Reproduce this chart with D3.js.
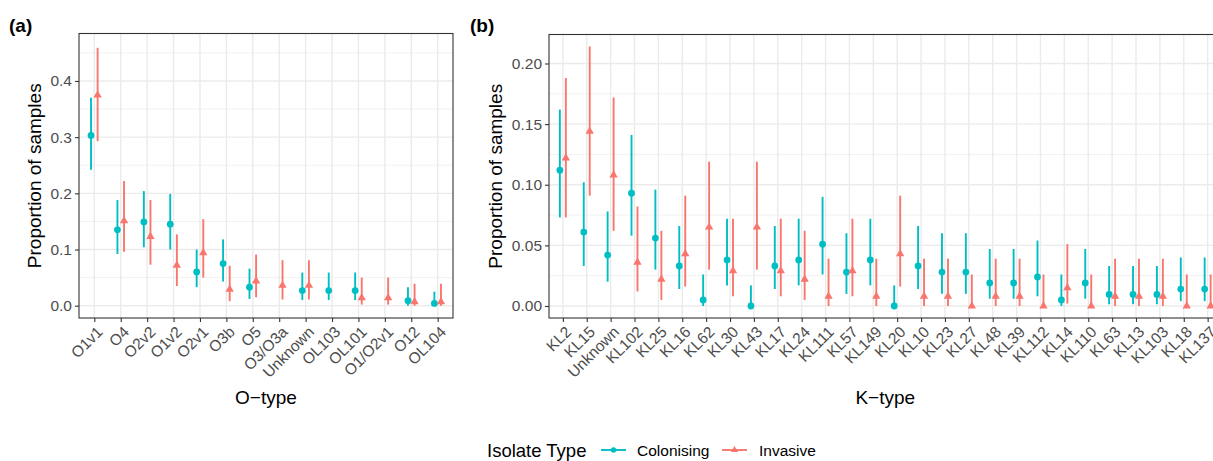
<!DOCTYPE html>
<html>
<head>
<meta charset="utf-8">
<script src="https://cdn.jsdelivr.net/npm/d3@7"></script>
<style>
  body { margin: 0; background: #fff; }
  svg { display: block; font-family: "Liberation Sans", Arial, sans-serif; }
</style>
</head>
<body>
<svg id="chart" width="1213" height="461"></svg>
<script>
// O-type panel data
const oTypes = ["O1v1", "O4", "O2v2", "O1v2", "O2v1", "O3b", "O5", "O3/O3a", "Unknown", "OL103", "OL101", "O1/O2v1", "O12", "OL104"];
const oColEst = [0.303, 0.135, 0.149, 0.145, 0.060, 0.075, 0.033, null, 0.027, 0.027, 0.027, null, 0.009, 0.004];
const oColLo  = [0.242, 0.092, 0.104, 0.100, 0.033, 0.043, 0.012, null, 0.010, 0.010, 0.010, null, 0.000, 0.000];
const oColHi  = [0.370, 0.188, 0.204, 0.199, 0.100, 0.118, 0.066, null, 0.059, 0.059, 0.059, null, 0.033, 0.025];
const oInvEst = [0.375, 0.151, 0.123, 0.072, 0.094, 0.029, 0.044, 0.036, 0.036, null, 0.014, 0.014, 0.007, 0.007];
const oInvLo  = [0.293, 0.096, 0.073, 0.035, 0.050, 0.008, 0.015, 0.011, 0.011, null, 0.002, 0.002, 0.000, 0.000];
const oInvHi  = [0.459, 0.222, 0.188, 0.127, 0.154, 0.071, 0.091, 0.081, 0.081, null, 0.050, 0.050, 0.039, 0.039];

// K-type panel data
const kTypes = ["KL2", "KL15", "Unknown", "KL102", "KL25", "KL16", "KL62", "KL30", "KL43", "KL17", "KL24", "KL111", "KL57", "KL149",
  "KL20", "KL10", "KL23", "KL27", "KL48", "KL39", "KL112", "KL14", "KL110", "KL63", "KL13", "KL103", "KL18", "KL137"];
const kColEst = [0.112, 0.061, 0.042, 0.093, 0.056, 0.033, 0.005, 0.038, 0.000, 0.033, 0.038, 0.051, 0.028, 0.038,
  0.000, 0.033, 0.028, 0.028, 0.019, 0.019, 0.024, 0.005, 0.019, 0.0095, 0.0095, 0.0095, 0.014, 0.014];
const kColLo  = [0.073, 0.033, 0.020, 0.058, 0.030, 0.014, 0.000, 0.017, 0.000, 0.014, 0.017, 0.026, 0.010, 0.017,
  0.000, 0.014, 0.010, 0.010, 0.006, 0.006, 0.008, 0.000, 0.006, 0.0014, 0.0014, 0.0014, 0.004, 0.004];
const kColHi  = [0.162, 0.102, 0.078, 0.141, 0.096, 0.066, 0.026, 0.072, 0.017, 0.066, 0.072, 0.090, 0.060, 0.072,
  0.017, 0.066, 0.060, 0.060, 0.047, 0.047, 0.054, 0.026, 0.047, 0.033, 0.033, 0.033, 0.040, 0.040];
const kInvEst = [0.122, 0.144, 0.108, 0.036, 0.022, 0.043, 0.065, 0.029, 0.065, 0.029, 0.022, 0.008, 0.029, 0.008,
  0.043, 0.008, 0.008, 0.000, 0.008, 0.008, 0.000, 0.015, 0.000, 0.008, 0.008, 0.008, 0.000, 0.000];
const kInvLo  = [0.073, 0.091, 0.062, 0.012, 0.005, 0.016, 0.030, 0.008, 0.030, 0.008, 0.005, 0.000, 0.008, 0.000,
  0.016, 0.000, 0.000, 0.000, 0.000, 0.000, 0.000, 0.002, 0.000, 0.000, 0.000, 0.000, 0.000, 0.000];
const kInvHi  = [0.188, 0.214, 0.172, 0.082, 0.062, 0.091, 0.119, 0.072, 0.119, 0.072, 0.062, 0.039, 0.072, 0.039,
  0.091, 0.039, 0.039, 0.026, 0.039, 0.039, 0.026, 0.051, 0.026, 0.039, 0.039, 0.039, 0.026, 0.026];

const oTicks = [0.0, 0.1, 0.2, 0.3, 0.4];
const kTicks = [0.00, 0.05, 0.10, 0.15, 0.20];

const groups = ["Colonising", "Invasive"];
const colors = { Colonising: "#00BFC4", Invasive: "#F8766D" };

const svg = d3.select("#chart");

function rows(types, colEst, colLo, colHi, invEst, invLo, invHi) {
  const out = [];
  types.forEach(function(t, i) {
    if (colEst[i] !== null) out.push({ type: t, group: "Colonising", est: colEst[i], lo: colLo[i], hi: colHi[i] });
    if (invEst[i] !== null) out.push({ type: t, group: "Invasive", est: invEst[i], lo: invLo[i], hi: invHi[i] });
  });
  return out;
}

function drawPanel(opt) {
  const g = svg.append("g");
  const x = d3.scalePoint().domain(opt.types).range([opt.x0, opt.x1]).padding(0.58);
  const step = x.step();
  const y = d3.scaleLinear().domain(opt.yDomain).range([opt.y1, opt.y0]);
  const dodge = d3.scalePoint().domain(groups).range([-step * 0.125, step * 0.125]);

  // minor grid
  const minor = d3.range(opt.ticks.length - 1).map(i => (opt.ticks[i] + opt.ticks[i + 1]) / 2);
  if (opt.ticks[0] - (opt.ticks[1] - opt.ticks[0]) / 2 >= opt.yDomain[0]) minor.unshift(opt.ticks[0] - (opt.ticks[1] - opt.ticks[0]) / 2);
  minor.push(opt.ticks[opt.ticks.length - 1] + (opt.ticks[1] - opt.ticks[0]) / 2);
  g.selectAll(".minor").data(minor.filter(v => v > opt.yDomain[0] && v < opt.yDomain[1])).enter().append("line")
    .attr("x1", opt.x0).attr("x2", opt.x1)
    .attr("y1", d => y(d)).attr("y2", d => y(d))
    .attr("stroke", "#ebebeb").attr("stroke-width", 0.7);
  g.selectAll(".hmajor").data(opt.ticks).enter().append("line")
    .attr("x1", opt.x0).attr("x2", opt.x1)
    .attr("y1", d => y(d)).attr("y2", d => y(d))
    .attr("stroke", "#ebebeb").attr("stroke-width", 1.4);
  g.selectAll(".vmajor").data(opt.types).enter().append("line")
    .attr("x1", d => x(d)).attr("x2", d => x(d))
    .attr("y1", opt.y0).attr("y2", opt.y1)
    .attr("stroke", "#ebebeb").attr("stroke-width", 1.4);

  const data = rows(opt.types, opt.colEst, opt.colLo, opt.colHi, opt.invEst, opt.invLo, opt.invHi);
  const marks = g.selectAll(".pr").data(data).enter().append("g")
    .attr("transform", d => "translate(" + (x(d.type) + dodge(d.group)) + ",0)");
  marks.append("line")
    .attr("y1", d => y(d.lo)).attr("y2", d => y(d.hi))
    .attr("stroke", d => colors[d.group]).attr("stroke-width", 1.9);
  marks.append("path")
    .attr("transform", d => "translate(0," + y(d.est) + ")")
    .attr("d", d => d.group === "Colonising"
      ? d3.symbol(d3.symbolCircle, 36)()
      : d3.symbol(d3.symbolTriangle, 30)())
    .attr("fill", d => colors[d.group]);

  // border
  g.append("rect")
    .attr("x", opt.x0).attr("y", opt.y0)
    .attr("width", opt.x1 - opt.x0).attr("height", opt.y1 - opt.y0)
    .attr("fill", "none").attr("stroke", "#333").attr("stroke-width", 1.1);

  // y axis
  const yAxis = g.append("g").attr("transform", "translate(" + opt.x0 + ",0)")
    .call(d3.axisLeft(y).tickValues(opt.ticks).tickFormat(d3.format(opt.fmt)).tickSize(4).tickPadding(3));
  yAxis.select(".domain").remove();
  yAxis.selectAll("line").attr("stroke", "#333").attr("stroke-width", 1.1);
  yAxis.selectAll("text").attr("fill", "#4d4d4d").style("font-size", "15.5px");

  // x axis
  const xAxis = g.append("g").attr("transform", "translate(0," + opt.y1 + ")")
    .call(d3.axisBottom(x).tickSize(4).tickPadding(3));
  xAxis.select(".domain").remove();
  xAxis.selectAll("line").attr("stroke", "#333").attr("stroke-width", 1.1);
  xAxis.selectAll("text")
    .attr("fill", "#4d4d4d").style("font-size", "15.5px")
    .attr("text-anchor", "end")
    .attr("dy", null).attr("y", null)
    .attr("transform", "translate(5,11) rotate(-45)")
    .attr("dominant-baseline", "central");

  // titles
  svg.append("text")
    .attr("transform", "translate(" + opt.yTitleX + "," + ((opt.y0 + opt.y1) / 2) + ") rotate(-90)")
    .attr("text-anchor", "middle").attr("dominant-baseline", "central")
    .style("font-size", "19px").attr("fill", "#000").text("Proportion of samples");
  svg.append("text")
    .attr("x", (opt.x0 + opt.x1) / 2).attr("y", opt.xTitleY)
    .attr("text-anchor", "middle")
    .style("font-size", "19px").attr("fill", "#000").text(opt.xTitle);
  svg.append("text")
    .attr("x", opt.tagX).attr("y", 32)
    .style("font-size", "19px").style("font-weight", "bold").attr("fill", "#000").text(opt.tag);
}

drawPanel({
  types: oTypes, colEst: oColEst, colLo: oColLo, colHi: oColHi, invEst: oInvEst, invLo: oInvLo, invHi: oInvHi,
  x0: 79, x1: 453, y0: 33.5, y1: 318, yDomain: [-0.0219, 0.4845], ticks: oTicks, fmt: ".1f",
  yTitleX: 34, xTitle: "O\u2212type", xTitleY: 404, tag: "(a)", tagX: 9
});

drawPanel({
  types: kTypes, colEst: kColEst, colLo: kColLo, colHi: kColHi, invEst: kInvEst, invLo: kInvLo, invHi: kInvHi,
  x0: 549, x1: 1221.5, y0: 34.5, y1: 318, yDomain: [-0.0099, 0.2239], ticks: kTicks, fmt: ".2f",
  yTitleX: 495, xTitle: "K\u2212type", xTitleY: 404, tag: "(b)", tagX: 470
});

// legend
const legend = svg.append("g").attr("transform", "translate(0,450)");
legend.append("text").attr("x", 487).attr("y", 0).attr("dominant-baseline", "central")
  .style("font-size", "18.5px").attr("fill", "#000").text("Isolate Type");
const keyX = [601, 722];
const labelX = [637, 759];
groups.forEach(function(gname, i) {
  legend.append("line").attr("x1", keyX[i]).attr("x2", keyX[i] + 25).attr("y1", 0).attr("y2", 0)
    .attr("stroke", colors[gname]).attr("stroke-width", 1.9);
  legend.append("path").attr("transform", "translate(" + (keyX[i] + 12.5) + ",0)")
    .attr("d", gname === "Colonising" ? d3.symbol(d3.symbolCircle, 22)() : d3.symbol(d3.symbolTriangle, 22)())
    .attr("fill", colors[gname]);
  legend.append("text").attr("x", labelX[i]).attr("y", 0).attr("dominant-baseline", "central")
    .style("font-size", "15.5px").attr("fill", "#000").text(gname);
});
</script>
</body>
</html>
